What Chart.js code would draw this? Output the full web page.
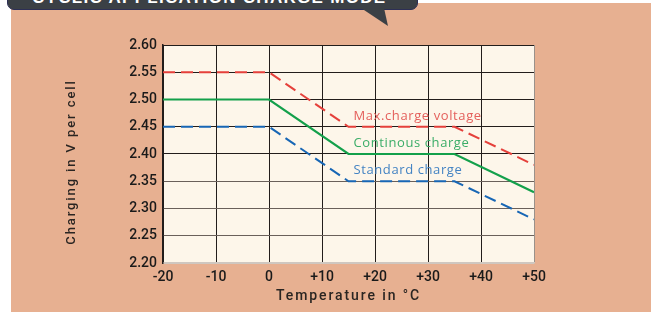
<!DOCTYPE html>
<html>
<head>
<meta charset="utf-8">
<script src="https://cdn.jsdelivr.net/npm/chart.js@4.4.0/dist/chart.umd.min.js"></script>
<style>
  html, body { margin: 0; padding: 0; background: #fff; }
  body { width: 651px; height: 312px; position: relative; overflow: hidden; }
  #panel { position: absolute; left: 11px; top: 3px; width: 640px; height: 309px; background: #E7B091; }
  #banner {
    position: absolute; left: 7px; top: -20px; width: 411px; height: 30px; z-index: 2;
    background: #3B4045; border: 1px solid #2d2f55; border-radius: 0 0 7px 7px; box-sizing: border-box;
    color: #fff; font: bold 17px 'Liberation Sans', Arial, sans-serif; letter-spacing: 1.3px; white-space: nowrap;
  }
  #banner span { position: absolute; left: 24px; top: 7px; }
  #tail {
    position: absolute; left: 361px; top: 8px; width: 30px; height: 20px; z-index: 2;
    background: #3B4045; clip-path: polygon(0 0, 23px 0, 27px 18px);
  }
</style>
</head>
<body>
<div id="panel">
  <canvas id="chargeChart"></canvas>
</div>
<div id="banner"><span>CYCLIC APPLICATION CHARGE MODE</span></div>
<div id="tail"></div>

<script>
// values
const temps = [-20, 0, 15, 35, 50];
const maxCharge = [2.55, 2.55, 2.45, 2.45, 2.38];
const contCharge = [2.50, 2.50, 2.40, 2.40, 2.33];
const stdCharge = [2.45, 2.45, 2.35, 2.35, 2.28];
const seriesNames = ['Max.charge voltage', 'Continous charge', 'Standard charge'];
const lineColors = ['#E5403B', '#13A04B', '#1766B5'];
const labelColors = ['#E4605C', '#3BAD68', '#4383C3'];

const xTitle = 'Temperature in \u00B0C';
const yTitle = 'Charging in V per cell';

const axisFont = 'Roboto, "Liberation Sans", Arial, sans-serif';

function toPoints(values) {
    return temps.map((t, i) => ({ x: t, y: values[i] }));
}

// cream plot background
const plotBackground = {
    id: 'plotBackground',
    beforeDraw(chart) {
        const { ctx, chartArea: a } = chart;
        ctx.save();
        ctx.fillStyle = '#FDF6EA';
        ctx.fillRect(a.left, a.top, a.right - a.left, a.bottom - a.top);
        ctx.restore();
    }
};

// letter spaced axis titles
const spacedTitles = {
    id: 'spacedTitles',
    afterLayout(chart) {
        ['x', 'y'].forEach(id => {
            const scale = chart.scales[id];
            if (scale._spaced) return;
            const orig = scale.drawTitle;
            scale.drawTitle = function() {
                this.ctx.save();
                this.ctx.letterSpacing = id === 'x' ? '1.9px' : '1.9px';
                if (id === 'y') this.ctx.translate(0, 8);
                orig.call(this);
                this.ctx.restore();
            };
            scale._spaced = true;
        });
    }
};

// series names written beside the flat part of each line
const seriesLabels = {
    id: 'seriesLabels',
    afterDatasetsDraw(chart) {
        const { ctx, scales: { x, y } } = chart;
        ctx.save();
        ctx.font = '13px "Open Sans", sans-serif';
        ctx.letterSpacing = '0.6px';
        ctx.textBaseline = 'alphabetic';
        chart.data.datasets.forEach((ds, i) => {
            const p = ds.data[2];
            ctx.fillStyle = labelColors[i];
            ctx.fillText(seriesNames[i], x.getPixelForValue(p.x) + 5, y.getPixelForValue(p.y) - 7);
        });
        ctx.restore();
    }
};

const ctx = document.getElementById('chargeChart').getContext('2d');

new Chart(ctx, {
    type: 'line',
    data: {
        datasets: [{
            label: seriesNames[0],
            data: toPoints(maxCharge),
            borderColor: lineColors[0],
            borderWidth: 2,
            borderDash: [12, 6],
            pointRadius: 0,
            tension: 0
        }, {
            label: seriesNames[1],
            data: toPoints(contCharge),
            borderColor: lineColors[1],
            borderWidth: 2.2,
            pointRadius: 0,
            tension: 0
        }, {
            label: seriesNames[2],
            data: toPoints(stdCharge),
            borderColor: lineColors[2],
            borderWidth: 2,
            borderDash: [12, 6],
            pointRadius: 0,
            tension: 0
        }]
    },
    options: {
        responsive: true,
        maintainAspectRatio: false,
        animation: false,
        layout: {
            padding: { top: 42, right: 117, bottom: 0, left: 0 }
        },
        plugins: {
            legend: { display: false },
            tooltip: { enabled: false }
        },
        scales: {
            x: {
                type: 'linear',
                min: -20,
                max: 50,
                afterFit: scale => { scale.height = 49; },
                grid: {
                    drawTicks: false,
                    color: c => c.tick && c.tick.value === 50 ? '#9a918a' : '#221d1b',
                    lineWidth: 1
                },
                border: { color: '#cfc7c0', width: 1.5 },
                ticks: {
                    stepSize: 10,
                    padding: 6,
                    color: '#1a1a1a',
                    font: { family: axisFont, size: 14, weight: '500' },
                    callback: value => value > 0 ? '+' + value : String(value)
                },
                title: {
                    display: true,
                    text: xTitle,
                    color: '#2a2522',
                    font: { family: axisFont, size: 14, weight: '500' },
                    padding: { top: 0, bottom: 7 }
                }
            },
            y: {
                min: 2.2,
                max: 2.6,
                afterFit: scale => { scale.width = 152; },
                grid: {
                    drawTicks: false,
                    color: c => {
                        const v = c.tick ? c.tick.value : 0;
                        if (v < 2.225) return '#cfc7c0';
                        if (v < 2.375) return '#6a605a';
                        return '#221d1b';
                    },
                    lineWidth: 1
                },
                border: { color: '#221d1b', width: 1.5 },
                ticks: {
                    stepSize: 0.05,
                    padding: 6,
                    color: '#1a1a1a',
                    font: { family: axisFont, size: 14, weight: '500' },
                    callback: value => value.toFixed(2)
                },
                title: {
                    display: true,
                    text: yTitle,
                    color: '#2a2522',
                    font: { family: axisFont, size: 13, weight: '500' },
                    padding: { top: 53, bottom: 0 }
                }
            }
        }
    },
    plugins: [plotBackground, spacedTitles, seriesLabels]
});
</script>
</body>
</html>
